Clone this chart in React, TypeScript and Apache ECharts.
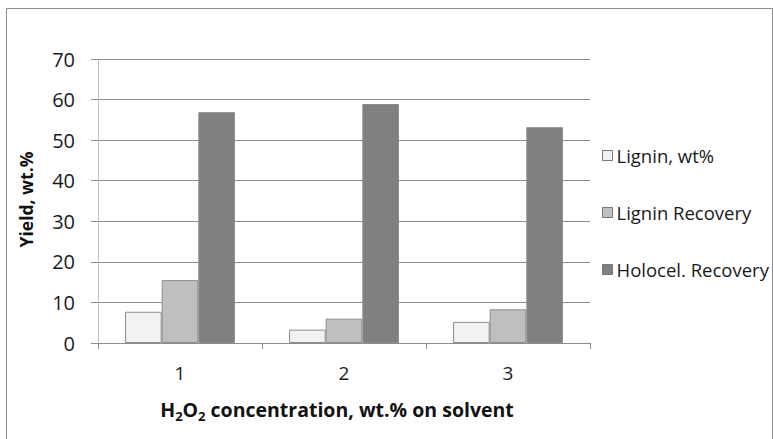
import React, { useEffect, useRef } from "react";
import * as echarts from "echarts";

const categories = ["1", "2", "3"];
const ligninWt = [7.7, 3.3, 5.2];
const ligninRecovery = [15.5, 6.0, 8.3];
const holocelRecovery = [56.9, 58.9, 53.2];
const seriesNames = ["Lignin, wt%", "Lignin Recovery", "Holocel. Recovery"];
const seriesColors = ["#f2f2f2", "#bfbfbf", "#808080"];

export default function App() {
  const ref = useRef<HTMLDivElement>(null);
  useEffect(() => {
    if (!ref.current) return;
    const chart = echarts.init(ref.current, null, { renderer: "svg" });
    const font = "'Open Sans', Lato, sans-serif";
    const data = [ligninWt, ligninRecovery, holocelRecovery];
    chart.setOption({
      animation: false,
      backgroundColor: "#ffffff",
      textStyle: { fontFamily: font },
      graphic: [
        {
          type: "rect",
          shape: { x: 6.5, y: 8.5, width: 766, height: 440 },
          style: { fill: "none", stroke: "#8c8c8c", lineWidth: 1 },
          silent: true,
        },
      ],
      grid: { left: 98, top: 59, right: 183, bottom: 96, containLabel: false },
      legend: {
        orient: "vertical",
        left: 597,
        top: 141,
        itemWidth: 10,
        itemHeight: 10,
        itemGap: 38,
        icon: "rect",
        textStyle: { fontFamily: font, fontSize: 18.5, color: "#1a1a1a", padding: [0, 0, 0, -1] },
        data: seriesNames.map((n, i) => ({
          name: n,
          itemStyle: { color: seriesColors[i], borderColor: "#777", borderWidth: 1 },
        })),
      },
      xAxis: {
        type: "category",
        data: categories,
        name: "{b|H}{s|2}{b|O}{s|2}{b| concentration, wt.% on solvent}",
        nameLocation: "middle",
        nameGap: 53,
        nameTextStyle: {
          padding: [0, 14, 0, 0],
          rich: {
            b: { fontFamily: font, fontSize: 19.5, fontWeight: "bold", color: "#111" },
            s: { fontFamily: font, fontSize: 13, fontWeight: "bold", color: "#111", verticalAlign: "bottom", padding: [13, 0, 0, 0] },
          },
        },
        axisLine: { lineStyle: { color: "#8c8c8c", width: 1 } },
        axisTick: { show: true, alignWithLabel: false, length: 6, lineStyle: { color: "#8c8c8c" } },
        axisLabel: { fontFamily: font, fontSize: 19, color: "#1a1a1a", margin: 20 },
      },
      yAxis: {
        type: "value",
        min: 0,
        max: 70,
        interval: 10,
        name: "Yield, wt.%",
        nameLocation: "middle",
        nameGap: 63,
        nameTextStyle: { fontFamily: font, fontSize: 17.5, fontWeight: "bold", color: "#111", padding: [0, 0, 0, 3] },
        axisLine: { show: true, lineStyle: { color: "#bfbfbf", width: 1 } },
        axisTick: { show: true, inside: false, length: 7, lineStyle: { color: "#8c8c8c" } },
        axisLabel: { fontFamily: font, fontSize: 20, color: "#1a1a1a", margin: 23 },
        splitLine: { lineStyle: { color: "#8c8c8c", width: 1 } },
      },
      series: data.map((d, i) => ({
        name: seriesNames[i],
        type: "bar",
        data: d,
        barGap: "0%",
        barCategoryGap: "33%",
        itemStyle: { color: seriesColors[i], borderColor: "#8c8c8c", borderWidth: 1 },
      })),
    });
    return () => chart.dispose();
  }, []);
  return (
    <div
      ref={ref}
      style={{ position: "fixed", left: 0, top: 0, width: 773, height: 439 }}
    />
  );
}
